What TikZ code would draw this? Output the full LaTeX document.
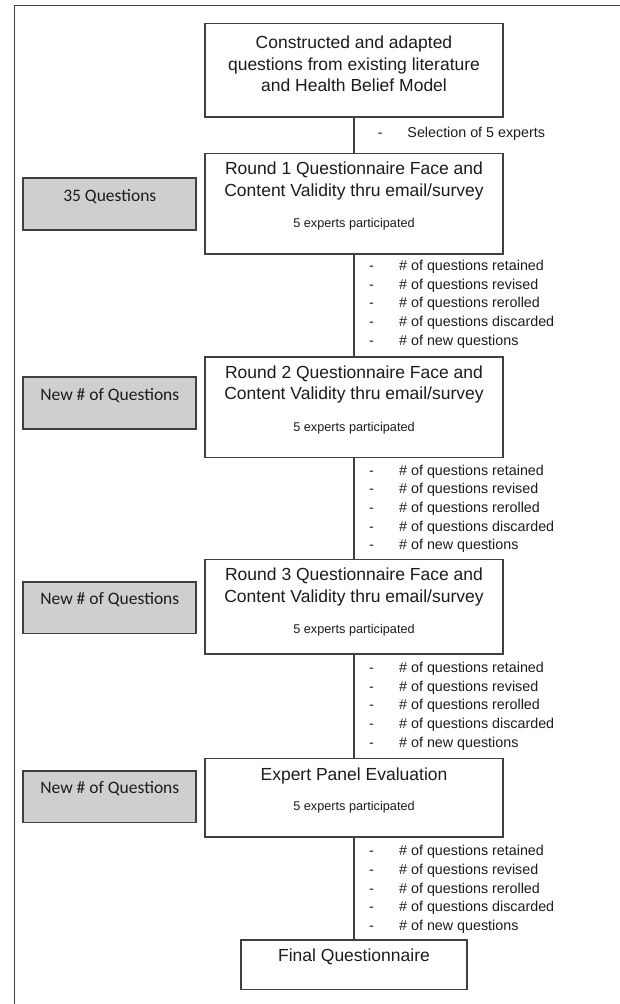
\documentclass[tikz,border=0pt]{standalone}
\usepackage{fontspec}
\setmainfont{Liberation Sans}
\newfontfamily\carlito{Carlito}
\usepackage{xcolor}
\usepackage{tikz}
\usetikzlibrary{positioning}
\definecolor{cfline}{RGB}{64,64,64}
\definecolor{cfshade}{RGB}{208,206,208}
\definecolor{cftext}{RGB}{28,28,28}
\newcommand\qline[1]{\makebox[30pt][l]{-}\# of #1}

\begin{document}
\begin{tikzpicture}[x=1pt, y=-1pt, text=cftext,
  stage/.style={draw=cfline, line width=1.6pt, fill=white, inner sep=0pt, minimum width=298pt},
  qcount/.style={draw=cfline, line width=1.8pt, fill=cfshade, inner sep=0pt,
    minimum width=173pt, minimum height=51.4pt, text height=12pt, text depth=18pt,
    font=\carlito\fontsize{17.5}{21}\selectfont},
  head/.style={align=center, inner sep=0pt, font=\fontsize{17.5}{21.8}\selectfont},
  subline/.style={inner sep=0pt, font=\fontsize{12.7}{15}\selectfont},
  items/.style={anchor=west, align=left, inner sep=0pt, font=\fontsize{14.3}{18.67}\selectfont},
  link/.style={draw=cfline, line width=1.6pt}]

  \useasboundingbox (0,0) rectangle (619,1004);
  % outer frame, runs off the page at right and bottom
  \draw[cfline, line width=1.2pt] (14.3,1010) -- (14.3,5.7) -- (625,5.7);

  \node[stage, minimum height=93.4pt] (src) at (354,70) {};
  \node[head] (srchead) at (354,63.8)
    {Constructed and adapted\\questions from existing literature\\and Health Belief Model};
  \node[items] (sel) at (377.6,133.5) {\makebox[29.7pt][l]{-}Selection of 5 experts};

  % three rounds of face and content validity
  \foreach \k/\yy/\h/\g/\q in {1/152.7/100.6/204/{35 Questions},
                                2/356/100.7/403/{New \# of Questions},
                                3/558.7/94.6/607.8/{New \# of Questions}} {
    \node[stage, anchor=north, minimum height=\h pt] (r\k) at (354,\yy) {};
    \node[head] (r\k head) at (354,\yy+28.5)
      {Round \k\ Questionnaire Face and\\Content Validity thru email/survey};
    \node[subline] (r\k sub) at (354,\yy+71.8) {5 experts participated};
    \node[qcount] (g\k) at (109.8,\g) {\q};
  }

  \node[stage, minimum height=78.4pt] (exp) at (354,797.5) {};
  \node[head] (exphead) at (354,775.7) {Expert Panel Evaluation};
  \node[subline] (expsub) at (354,807.7) {5 experts participated};
  \node[qcount] (g4) at (109.8,796.8) {New \# of Questions};

  \node[stage, minimum width=226.3pt, minimum height=49.3pt] (fin) at (354,964.65) {};
  \node[head] (finhead) at (354,956.7) {Final Questionnaire};

  \draw[link] (src) -- (r1);
  \draw[link] (r1) -- (r2);
  \draw[link] (r2) -- (r3);
  \draw[link] (r3) -- (exp);
  \draw[link] (exp) -- (fin);

  \foreach \s/\y in {r1/304, r2/508.7, r3/706.2, exp/889.5}
    \node[items] (\s list) at (369,\y)
      {\qline{questions retained}\\\qline{questions revised}\\\qline{questions rerolled}\\
       \qline{questions discarded}\\\qline{new questions}};
\end{tikzpicture}
\end{document}
